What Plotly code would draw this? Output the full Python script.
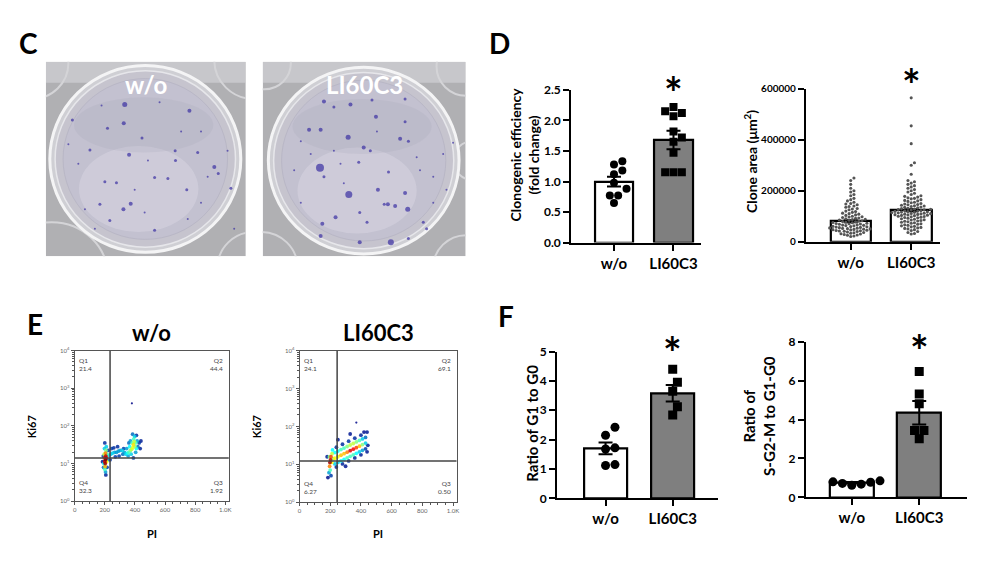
"""
Colony formation / cell cycle figure (panels C-F) rebuilt with Plotly
"""
import plotly.graph_objects as go

W, H = 1000, 562
OFF = 8                      # default body margin of the html page
FW, FH = W - 2 * OFF, H - 2 * OFF
FONT = "Lato"

groups = ["w/o", "LI60C3"]

# --- D: clonogenic efficiency (fold change)
clono_mean = [1.0, 1.68]
clono_sem = [0.08, 0.15]
clono_wo = [1.33, 1.28, 1.12, 1.18, 0.98, 0.88, 0.77, 0.77, 0.65]
clono_li = [2.22, 2.15, 2.12, 2.07, 1.82, 1.72, 1.65, 1.47, 1.15, 1.15, 1.15]

# --- D: clone area (x1000 um^2)
area_mean = [80, 123]
area_sem = [4, 4]
area_wo = [250, 240, 225, 210, 200, 195, 185, 180, 170, 165, 160, 155, 150, 148, 145, 140,
           138, 135, 130, 128, 125, 120, 118, 115, 112, 110, 108, 105, 103, 100, 98, 97, 95,
           93, 92, 90, 88, 87, 85, 84, 82, 80, 79, 78, 76, 75, 74, 72, 71, 70, 69, 68, 66, 65,
           64, 63, 62, 60, 59, 58, 57, 56, 55, 54, 53, 52, 51, 50, 49, 48, 47, 46, 45, 44, 43,
           42, 41, 40, 38, 36, 35, 33, 31, 30, 28, 26, 25, 22, 20]
area_li = [565, 455, 385, 310, 300, 265, 240, 235, 230, 225, 220, 215, 210, 205, 200, 195,
           190, 185, 180, 178, 175, 172, 170, 168, 165, 162, 160, 158, 155, 153, 150, 148, 146,
           145, 143, 141, 140, 138, 136, 135, 133, 131, 130, 128, 127, 126, 125, 124, 122, 121,
           120, 119, 118, 117, 116, 115, 114, 113, 112, 111, 110, 109, 108, 107, 106, 105, 104,
           103, 102, 100, 99, 98, 96, 95, 94, 92, 90, 88, 86, 85, 83, 81, 80, 78, 76, 74, 72,
           70, 68, 66, 64, 62, 60, 58, 56, 54, 52, 50, 47, 44, 40, 36, 32, 30]

# --- F: cell cycle ratios
g1_mean = [1.7, 3.58]
g1_sem = [0.2, 0.28]
g1_wo = [2.42, 2.15, 1.72, 1.68, 1.15, 1.12]
g1_li = [4.4, 3.95, 3.65, 3.12, 2.84]

sg2_mean = [0.75, 4.35]
sg2_sem = [0.04, 0.6]
sg2_wo = [0.85, 0.8, 0.78, 0.72, 0.68, 0.62]
sg2_li = [6.47, 5.31, 4.81, 3.44, 3.44, 3.02]

# --- E: flow cytometry events (PI, log10 Ki67, relative density)
pi_wo = [205, 203, 207, 200, 210, 198, 205, 202, 212, 196, 208, 200, 215, 194, 210, 198,
         205, 218, 192, 215, 200, 190, 222, 207, 185,
         228, 240, 252, 265, 278, 290, 302, 315, 245, 270, 295, 260, 285, 235,
         390, 385, 395, 378, 400, 370, 392, 405, 360, 382, 350, 410, 398, 365, 340, 415, 375,
         330, 420, 385, 355, 428, 345, 405, 435, 410, 370, 320, 440, 390, 360, 325, 380]
ki_wo = [1.1, 1.0, 1.2, 1.05, 1.15, 1.15, 1.28, 0.92, 1.05, 1.25, 1.35, 0.85, 1.25, 1.0,
         1.45, 1.4, 0.78, 1.1, 0.9, 0.9, 1.55, 1.2, 1.35, 0.7, 1.05,
         1.22, 1.25, 1.28, 1.3, 1.3, 1.33, 1.35, 1.35, 1.4, 1.18, 1.2, 1.42, 1.45, 1.1,
         1.5, 1.42, 1.58, 1.38, 1.45, 1.35, 1.65, 1.55, 1.3, 1.55, 1.28, 1.4, 1.72, 1.45, 1.25,
         1.6, 1.25, 1.3, 1.45, 1.78, 1.2, 1.55, 1.4, 1.3, 1.4, 1.75, 1.6, 1.25, 1.6, 1.15,
         1.55, 1.4, 2.6]
dens_wo = [1.0, 0.95, 0.9, 0.85, 0.8, 0.75, 0.7, 0.65, 0.6, 0.55, 0.5, 0.45, 0.45, 0.4,
           0.35, 0.35, 0.3, 0.3, 0.25, 0.2, 0.15, 0.2, 0.2, 0.12, 0.1,
           0.35, 0.35, 0.35, 0.3, 0.3, 0.3, 0.3, 0.35, 0.2, 0.2, 0.2, 0.15, 0.15, 0.15,
           0.62, 0.58, 0.55, 0.55, 0.5, 0.5, 0.45, 0.45, 0.45, 0.45, 0.4, 0.4, 0.35, 0.4, 0.35,
           0.3, 0.35, 0.3, 0.25, 0.25, 0.3, 0.18, 0.3, 0.3, 0.12, 0.15, 0.3, 0.25, 0.1, 0.2,
           0.25, 0.2, 0.02]

pi_li = [198, 202, 196, 205, 200, 210, 195, 212, 192, 205, 220, 215,
         230, 250, 270, 290, 310, 330, 350, 370, 390, 410, 430,
         230, 250, 270, 290, 310, 330, 350, 370, 390, 410, 430,
         230, 250, 270, 290, 310, 330, 350, 370, 390, 410, 430,
         240, 280, 320, 360, 400, 440, 240, 280, 320, 360, 400, 440,
         370, 250, 300, 445, 180, 185, 330, 420]
ki_li = [1.05, 1.12, 0.95, 1.2, 0.85, 1.05, 1.2, 1.28, 0.78, 0.7, 1.15, 1.38,
         1.16, 1.2, 1.24, 1.28, 1.32, 1.36, 1.4, 1.44, 1.48, 1.52, 1.56,
         1.31, 1.35, 1.39, 1.43, 1.47, 1.51, 1.55, 1.59, 1.63, 1.67, 1.71,
         1.01, 1.05, 1.09, 1.13, 1.17, 1.21, 1.25, 1.29, 1.33, 1.37, 1.41,
         1.45, 1.53, 1.61, 1.69, 1.77, 1.85, 0.93, 1.01, 1.09, 1.17, 1.25, 1.33,
         2.1, 1.65, 0.95, 1.5, 1.2, 0.65, 1.8, 1.85]
dens_li = [0.95, 0.9, 0.7, 0.75, 0.45, 0.6, 0.5, 0.55, 0.3, 0.2, 0.5, 0.4,
           0.6, 0.6, 0.65, 0.65, 0.7, 0.85, 0.8, 0.75, 0.65, 0.5, 0.35,
           0.4, 0.4, 0.45, 0.45, 0.5, 0.55, 0.55, 0.5, 0.45, 0.35, 0.25,
           0.35, 0.35, 0.4, 0.4, 0.45, 0.45, 0.45, 0.4, 0.35, 0.3, 0.2,
           0.15, 0.15, 0.18, 0.15, 0.12, 0.08, 0.12, 0.12, 0.15, 0.12, 0.1, 0.08,
           0.03, 0.08, 0.08, 0.1, 0.1, 0.05, 0.08, 0.06]

quad_wo = ["21.4", "44.4", "1.92", "32.3"]
quad_li = ["24.1", "69.1", "0.50", "6.27"]
gate_wo = [235, 1.15]
gate_li = [245, 1.09]

# --- C: colony positions in the photos (image pixel space) and size
col1_x = [370, 565, 212, 367, 318, 422, 265, 383, 522, 590, 640, 652, 523, 460, 500, 310,
          345, 295, 388, 366, 325, 460, 557, 690, 230, 600, 430, 250, 700, 475, 300, 540,
          600, 200, 680, 440, 400, 560, 280, 620]
col1_y = [297, 316, 345, 355, 370, 400, 437, 452, 440, 445, 490, 510, 470, 522, 525, 535,
          538, 605, 603, 620, 655, 685, 560, 555, 480, 600, 630, 620, 680, 290, 300, 380,
          380, 420, 440, 470, 560, 650, 680, 520]
col1_s = [5, 4, 3, 4, 3, 3, 3, 4, 3, 3, 4, 3, 3, 3, 3, 3, 3, 3, 4, 4, 3, 3, 3, 3, 2, 2, 2,
          2, 2, 2, 2, 2, 2, 2, 2, 2, 2, 2, 2, 2]
col2_x = [970, 1050, 1115, 1215, 1000, 1127, 1215, 925, 960, 1043, 1090, 1110, 1200, 1225,
          958, 1075, 1165, 1045, 1133, 1215, 1163, 1185, 1223, 1152, 970, 1005, 965, 1078,
          1100, 960, 1078, 1172, 1225, 1270, 1280, 880, 900, 1300, 1330, 1250, 1360, 1020,
          1260, 1130, 1000, 930, 1300, 1030, 1340, 900]
col2_y = [288, 297, 283, 280, 305, 335, 350, 375, 375, 398, 430, 440, 403, 410, 492, 475,
          505, 575, 560, 570, 605, 610, 620, 605, 520, 645, 665, 630, 660, 703, 722, 722,
          710, 660, 680, 500, 600, 520, 450, 460, 415, 480, 500, 380, 440, 450, 600, 540,
          560, 410]
col2_s = [4, 4, 3, 3, 3, 4, 3, 4, 4, 5, 4, 3, 4, 3, 8, 3, 3, 7, 4, 4, 4, 4, 5, 3, 3, 4, 4,
          3, 3, 4, 4, 6, 3, 3, 3, 2, 2, 2, 2, 2, 2, 2, 2, 2, 2, 2, 2, 2, 2, 2]


def dom(px0, px1, py0, py1):
    return [(px0 - OFF) / FW, (px1 - OFF) / FW], [1 - (py1 - OFF) / FH, 1 - (py0 - OFF) / FH]


def swarm(vals, ppy, ppx, diam):
    # simple beeswarm: smallest offset that does not overlap earlier points
    placed, offs = [], [0.0] * len(vals)
    cands = [0.0]
    for k in range(1, 60):
        cands += [k * diam * 0.5, -k * diam * 0.5]
    for i in sorted(range(len(vals)), key=lambda j: vals[j]):
        y = vals[i] * ppy
        for c in cands:
            if all((c - a) ** 2 + (y - b) ** 2 >= diam ** 2 for a, b in placed):
                break
        placed.append((c, y))
        offs[i] = c / ppx
    return offs


fig = go.Figure()
annotations = []
shapes = []


def ann(text, px, py, size, bold=True, angle=0, color="black", xanchor="center", yanchor="middle"):
    annotations.append(dict(text=text, x=(px - OFF) / FW, y=1 - (py - OFF) / FH,
                            xref="paper", yref="paper",
                            showarrow=False, textangle=angle, xanchor=xanchor, yanchor=yanchor,
                            font=dict(family=FONT, size=size, color=color,
                                      weight="bold" if bold else "normal")))


# ---------------- C: photos ----------------
def photo(n, box, xr, cx, cy, cols, label, wells):
    xd, yd = dom(*box)
    xa, ya = f"x{n}" if n > 1 else "x", f"y{n}" if n > 1 else "y"
    fig.update_layout(**{
        f"xaxis{n}": dict(domain=xd, range=xr, visible=False, fixedrange=True),
        f"yaxis{n}": dict(domain=yd, range=[765, 165], visible=False, fixedrange=True),
    })
    base = dict(xref=xa, yref=ya, layer="below")
    shapes.append(dict(type="rect", x0=xr[0], x1=xr[1], y0=165, y1=765,
                       fillcolor="#b0b0b3", line=dict(width=0), **base))
    shapes.append(dict(type="rect", x0=xr[0], x1=xr[1], y0=165, y1=230,
                       fillcolor="rgba(215,215,218,0.6)", line=dict(width=0), **base))
    # neighbouring wells of the plate
    for ox, oy, rr in wells:
        shapes.append(dict(type="circle", x0=ox - rr, x1=ox + rr, y0=oy - rr, y1=oy + rr,
                           fillcolor="rgba(0,0,0,0)", line=dict(color="#d4d4d7", width=2), **base))
    for rr, fill, lc, lw in [(288, "#cfcfd4", "#f4f4f5", 3), (272, "#c6c4ce", "#e6e6ea", 1.5),
                             (248, "#c3c1d0", "#b9b7c6", 1)]:
        shapes.append(dict(type="circle", x0=cx - rr, x1=cx + rr, y0=cy - rr, y1=cy + rr,
                           fillcolor=fill, line=dict(color=lc, width=lw), **base))
    shapes.append(dict(type="circle", x0=cx - 200, x1=cx + 160, y0=cy - 40, y1=cy + 225,
                       fillcolor="rgba(225,224,234,0.35)", line=dict(width=0), **base))
    shapes.append(dict(type="circle", x0=cx - 215, x1=cx + 205, y0=cy - 190, y1=cy - 20,
                       fillcolor="rgba(160,158,175,0.18)", line=dict(width=0), **base))
    fig.add_trace(go.Scatter(x=cols[0], y=cols[1], mode="markers", xaxis=xa, yaxis=ya,
                             marker=dict(size=cols[2], color="#3b2fa3", line=dict(width=0)),
                             showlegend=False, hoverinfo="skip"))
    ann(label, (box[0] + box[1]) / 2, 78, 24, color="white")


photo(1, (44, 245, 55, 255), [132, 735], 432, 465, (col1_x, col1_y, col1_s), "w/o",
      [(150, 830, 170), (760, 160, 120), (90, 170, 110), (760, 800, 110)])
photo(2, (262, 466, 55, 255), [785, 1398], 1090, 470, (col2_x, col2_y, col2_s), "LI60C3",
      [(790, 170, 80), (1400, 180, 90), (1420, 470, 60), (780, 800, 110), (1400, 800, 100)])

# ---------------- bar charts (D, F) ----------------
def bar_panel(n, box, xr, yr, ytick, ytext, means, sems, pts, fills, bw, msize, syms, star_y,
              pcolor="black", yfont=12):
    xd, yd = dom(*box)
    xa, ya = f"x{n}", f"y{n}"
    ppx = (box[1] - box[0]) / (xr[1] - xr[0])
    ppy = (box[3] - box[2]) / (yr[1] - yr[0])
    for i in range(2):
        fig.add_trace(go.Bar(x=[i], y=[means[i]], width=bw, xaxis=xa, yaxis=ya,
                             marker=dict(color=fills[i], line=dict(color="black", width=2.2)),
                             error_y=dict(type="data", array=[sems[i]], color="black",
                                          thickness=2, width=7),
                             showlegend=False, hoverinfo="skip"))
    for i in range(2):
        offs = swarm(pts[i], ppy, ppx, msize * 1.05)
        fig.add_trace(go.Scatter(x=[i + o for o in offs], y=pts[i], mode="markers",
                                 xaxis=xa, yaxis=ya, showlegend=False, hoverinfo="skip",
                                 marker=dict(size=msize, color=pcolor, symbol=syms[i],
                                             line=dict(width=0))))
    axis_line = dict(showline=True, linecolor="black", linewidth=2, ticks="outside",
                     tickwidth=2, ticklen=6, tickcolor="black", showgrid=False, zeroline=False,
                     fixedrange=True)
    fig.update_layout(**{
        f"xaxis{n}": dict(domain=xd, range=xr, tickvals=[0, 1], ticktext=groups, anchor=ya,
                          tickfont=dict(family=FONT, size=15, weight="bold", color="black"),
                          **axis_line),
        f"yaxis{n}": dict(domain=yd, range=yr, tickvals=ytick, ticktext=ytext, anchor=xa,
                          tickfont=dict(family=FONT, size=yfont, weight="bold", color="black"),
                          **axis_line),
    })
    cx = box[0] + (1 - xr[0]) * ppx
    ann("*", cx, star_y, 44)


bar_panel(3, (572, 703, 84, 241), [-0.72, 1.47], [0, 2.5], [0, 0.5, 1, 1.5, 2, 2.5],
          ["0.0", "0.5", "1.0", "1.5", "2.0", "2.5"], clono_mean, clono_sem,
          [clono_wo, clono_li], ["white", "#7f7f7f"], 0.65, 8, ["circle", "square"], 86)
bar_panel(4, (808, 943, 83, 240), [-0.74, 1.48], [0, 600], [0, 200, 400, 600],
          ["0", "200000", "400000", "600000"], area_mean, area_sem,
          [area_wo, area_li], ["white", "white"], 0.67,
          3.1, ["circle", "circle"], 78, pcolor="#555555", yfont=10)
bar_panel(7, (558, 720, 353, 504), [-0.72, 1.68], [0, 5], [0, 1, 2, 3, 4, 5],
          ["0", "1", "2", "3", "4", "5"], g1_mean, g1_sem, [g1_wo, g1_li],
          ["white", "#7f7f7f"], 0.64, 9, ["circle", "square"], 353)
bar_panel(8, (808, 970, 343, 503), [-0.68, 1.71], [0, 8], [0, 2, 4, 6, 8],
          ["0", "2", "4", "6", "8"], sg2_mean, sg2_sem, [sg2_wo, sg2_li],
          ["white", "#7f7f7f"], 0.65, 9, ["circle", "square"], 351)

ann("Clonogenic efficiency<br>(fold change)", 525, 150, 14, angle=-90)
ann("Clone area (μm<sup>2</sup>)", 753, 158, 14, angle=-90)
ann("Ratio of G1 to G0", 533, 427, 15, angle=-90)
ann("Ratio of<br>S-G2-M to G1-G0", 761, 419, 15, angle=-90)

# ---------------- E: flow cytometry ----------------
minor_y = [m * 10 ** d for d in range(4) for m in range(2, 10)]


def flow_panel(n, box, pi, ki, dens, gate, quad, title):
    xd, yd = dom(*box)
    xa, ya = f"x{n}", f"y{n}"
    order = sorted(range(len(pi)), key=lambda j: dens[j])
    fig.add_trace(go.Scatter(x=[pi[j] for j in order], y=[10 ** ki[j] for j in order],
                             mode="markers", xaxis=xa, yaxis=ya, showlegend=False,
                             hoverinfo="skip",
                             marker=dict(size=[2.2 if dens[j] < 0.05 else 3.8 for j in order],
                                         color=[dens[j] for j in order],
                                         colorscale="Jet", cmin=0, cmax=1, opacity=0.85,
                                         line=dict(width=0))))
    frame = dict(showline=True, linecolor="#555", linewidth=1, mirror=True, ticks="outside",
                 ticklen=3, tickcolor="#555", showgrid=False, zeroline=False, fixedrange=True,
                 tickfont=dict(family=FONT, size=6, color="#666"))
    fig.update_layout(**{
        f"xaxis{n}": dict(domain=xd, range=[0, 1024], tickvals=[0, 200, 400, 600, 800, 1000],
                          ticktext=["0", "200", "400", "600", "800", "1.0K"], anchor=ya,
                          minor=dict(dtick=50, ticks="outside", ticklen=2, tickcolor="#555"),
                          **frame),
        f"yaxis{n}": dict(domain=yd, type="log", range=[0, 4], anchor=xa,
                          tickvals=[1, 10, 100, 1000, 10000],
                          ticktext=[f"10<sup>{k}</sup>" for k in range(5)],
                          minor=dict(tickvals=minor_y, ticks="outside", ticklen=2,
                                     tickcolor="#555"), **frame),
    })
    base = dict(xref=xa, yref=ya, line=dict(color="#444", width=1.5))
    shapes.append(dict(type="line", x0=gate[0], x1=gate[0], y0=1, y1=10000, **base))
    shapes.append(dict(type="line", x0=0, x1=1024, y0=10 ** gate[1], y1=10 ** gate[1], **base))
    qfont = dict(family=FONT, size=6.5, color="#444")
    for qn, qv, qx, qy, anc in [("Q1", quad[0], 18, 3.75, "left"), ("Q2", quad[1], 1000, 3.75, "right"),
                                ("Q3", quad[2], 1000, 0.5, "right"), ("Q4", quad[3], 18, 0.5, "left")]:
        annotations.append(dict(text=f"{qn}<br>{qv}", x=qx, y=qy - 0.12, xref=xa, yref=ya,
                                showarrow=False, xanchor=anc, yanchor="middle", align=anc,
                                font=qfont))
    cx = (box[0] + box[1]) / 2
    ann(title, cx, 333, 22)
    ann("PI", cx, 540, 11)
    ann("Ki67", box[0] - 43, 430, 11, angle=-90)


flow_panel(5, (73, 228, 352, 507), pi_wo, ki_wo, dens_wo, gate_wo, quad_wo, "w/o")
flow_panel(6, (299, 457, 352, 508), pi_li, ki_li, dens_li, gate_li, quad_li, "LI60C3")

# panel letters
ann("C", 27, 36, 28)
ann("D", 500, 36, 28)
ann("E", 33, 325, 28)
ann("F", 507, 316, 28)

fig.update_layout(
    width=FW, height=FH,
    margin=dict(l=0, r=0, t=0, b=0),
    paper_bgcolor="white",
    plot_bgcolor="white",
    showlegend=False,
    bargap=0,
    annotations=annotations,
    shapes=shapes,
    font=dict(family=FONT),
)

fig.write_html("out.html")
